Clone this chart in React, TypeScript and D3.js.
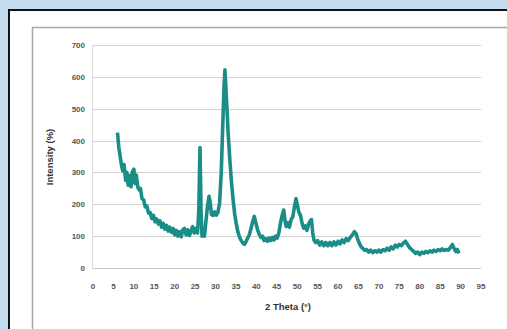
import React, {useEffect, useRef} from 'react';
import * as d3 from 'd3';

// 2 Theta (deg) and Intensity (%)
const twoTheta = [
    6.0, 6.3, 6.6, 7.0, 7.3, 7.6, 8.0, 8.3, 8.6, 9.0, 9.3, 9.6, 10.0, 10.3, 10.6, 11.0, 11.3, 11.6,
    12.0, 12.4, 12.8, 13.2, 13.6, 14.0, 14.4, 14.8, 15.2, 15.6, 16.0, 16.4, 16.8, 17.2, 17.6, 18.0,
    18.4, 18.8, 19.2, 19.6, 20.0, 20.4, 20.8, 21.2, 21.6, 22.0, 22.4, 22.8, 23.2, 23.6, 24.0, 24.4,
    24.8, 25.2, 25.6, 25.9, 26.2, 26.45, 26.7, 27.0, 27.3, 27.6, 28.0, 28.4, 28.7, 29.0, 29.4, 29.8,
    30.2, 30.6, 31.0, 31.4, 31.8, 32.1, 32.3, 32.5, 32.8, 33.1, 33.5, 33.9, 34.3, 34.7, 35.1, 35.5,
    35.9, 36.3, 36.7, 37.1, 37.5, 37.9, 38.3, 38.7, 39.1, 39.5, 39.9, 40.3, 40.7, 41.1, 41.5, 41.9,
    42.3, 42.7, 43.1, 43.5, 43.9, 44.3, 44.7, 45.1, 45.5, 45.9, 46.3, 46.7, 47.0, 47.3, 47.7, 48.1,
    48.5, 48.9, 49.3, 49.7, 50.0, 50.4, 50.8, 51.2, 51.6, 52.0, 52.4, 52.8, 53.2, 53.5, 53.8, 54.1,
    54.5, 55.0, 55.5, 56.0, 56.5, 57.0, 57.5, 58.0, 58.5, 59.0, 59.5, 60.0, 60.5, 61.0, 61.5, 62.0,
    62.5, 63.0, 63.5, 64.0, 64.4, 64.8, 65.2, 65.6, 66.0, 66.5, 67.0, 67.5, 68.0, 68.5, 69.0, 69.5,
    70.0, 70.5, 71.0, 71.5, 72.0, 72.5, 73.0, 73.5, 74.0, 74.5, 75.0, 75.5, 76.0, 76.5, 77.0, 77.5,
    78.0, 78.5, 79.0, 79.5, 80.0, 80.5, 81.0, 81.5, 82.0, 82.5, 83.0, 83.5, 84.0, 84.5, 85.0, 85.5,
    86.0, 86.5, 87.0, 87.5, 88.0, 88.4, 88.8, 89.2, 89.6
];

const intensity = [
    425, 380, 355, 320, 305, 325, 275, 300, 260, 290, 255, 300, 310, 265, 292, 252, 245, 250,
    218, 214, 192, 194, 172, 174, 155, 165, 145, 154, 138, 148, 128, 140, 122, 134,
    116, 128, 112, 124, 104, 118, 100, 114, 98, 120, 124, 104, 120, 102, 116, 130,
    110, 124, 110, 180, 378, 180, 100, 110, 100, 140, 190, 225, 205, 168, 165, 176,
    166, 175, 205, 300, 460, 575, 622, 575, 500, 420, 340, 270, 215, 168, 138, 112,
    96, 86, 78, 74, 84, 95, 105, 125, 145, 162, 140, 120, 106, 96, 100, 86,
    92, 84, 94, 86, 96, 88, 100, 94, 110, 140, 165, 182, 150, 130, 142, 128,
    152, 160, 190, 218, 200, 175, 165, 140, 125, 132, 118, 138, 148, 152, 110, 88,
    80, 86, 72, 82, 70, 80, 70, 80, 70, 82, 72, 84, 76, 88, 80, 92,
    86, 96, 104, 114, 108, 90, 78, 68, 62, 56, 58, 50, 56, 48, 54, 50,
    56, 50, 58, 54, 62, 56, 66, 60, 72, 66, 74, 70, 78, 84, 74, 64,
    58, 52, 46, 50, 42, 50, 46, 52, 48, 54, 50, 56, 52, 58, 54, 60,
    55, 58, 56, 64, 74, 62, 52, 58, 46
];

const xTicks = d3.range(0, 100, 5);
const yTicks = [0, 100, 200, 300, 400, 500, 600, 700];

const Chart = ({width = 507, height = 329}) => {
    const ref = useRef();

    useEffect(() => {
        const svg = d3.select(ref.current);
        svg.selectAll('*').remove();
        svg.attr('width', width).attr('height', height);

        // page background, white card and chart frame
        svg.append('rect').attr('width', width).attr('height', height).attr('fill', '#c4dcee');
        svg.append('rect')
            .attr('x', 9).attr('y', 10).attr('width', width + 10).attr('height', height + 10)
            .attr('fill', '#fff').attr('stroke', '#111').attr('stroke-width', 2);
        svg.append('rect')
            .attr('x', 32.5).attr('y', 27.5).attr('width', 480).attr('height', 310)
            .attr('fill', '#fff').attr('stroke', '#a8a8a8').attr('stroke-width', 1.5);

        const x = d3.scaleLinear().domain([0, 95]).range([93, 481]);
        const y = d3.scaleLinear().domain([0, 700]).range([268, 45]);

        const font = '"Liberation Sans", Arial, sans-serif';

        // gridlines
        svg.append('g')
            .selectAll('line')
            .data(yTicks)
            .enter().append('line')
            .attr('x1', 92).attr('x2', x(95))
            .attr('y1', d => Math.round(y(d)) + 0.5)
            .attr('y2', d => Math.round(y(d)) + 0.5)
            .attr('stroke', d => d === 0 ? '#c8c8c8' : '#d2d2d2')
            .attr('stroke-width', 1);

        svg.append('line')
            .attr('x1', 92.5).attr('x2', 92.5)
            .attr('y1', y(700)).attr('y2', y(0))
            .attr('stroke', '#dcdcdc');

        // y tick labels
        svg.append('g')
            .selectAll('text')
            .data(yTicks)
            .enter().append('text')
            .attr('x', 85)
            .attr('y', d => y(d) + 3)
            .attr('text-anchor', 'end')
            .attr('font-family', font)
            .attr('font-size', 8)
            .attr('font-weight', 'bold')
            .attr('fill', '#555')
            .text(d => d);

        // x tick labels
        svg.append('g')
            .selectAll('text')
            .data(xTicks)
            .enter().append('text')
            .attr('x', d => x(d))
            .attr('y', 288.5)
            .attr('text-anchor', 'middle')
            .attr('font-family', font)
            .attr('font-size', 8)
            .attr('font-weight', 'bold')
            .attr('fill', '#555')
            .text(d => d);

        // axis titles
        svg.append('text')
            .attr('x', 288).attr('y', 310)
            .attr('text-anchor', 'middle')
            .attr('font-family', font)
            .attr('font-size', 9.5)
            .attr('font-weight', 'bold')
            .attr('fill', '#333')
            .text('2 Theta (°)');

        svg.append('text')
            .attr('transform', 'translate(53,157) rotate(-90)')
            .attr('text-anchor', 'middle')
            .attr('font-family', font)
            .attr('font-size', 9.5)
            .attr('font-weight', 'bold')
            .attr('fill', '#333')
            .text('Intensity (%)');

        // the pattern
        const data = twoTheta.map((t, i) => ({t, v: intensity[i]}));
        const line = d3.line()
            .x(d => x(d.t))
            .y(d => y(d.v));

        svg.append('path')
            .datum(data)
            .attr('fill', 'none')
            .attr('stroke', '#1a8d87')
            .attr('stroke-width', 3.6)
            .attr('stroke-linejoin', 'round')
            .attr('d', line);
    }, [width, height]);

    return <svg ref={ref} style={{position: 'absolute', left: 0, top: 0}}/>;
};

export default function App() {
    return (
        <div id='chartArea'>
            <Chart/>
        </div>
    );
}
